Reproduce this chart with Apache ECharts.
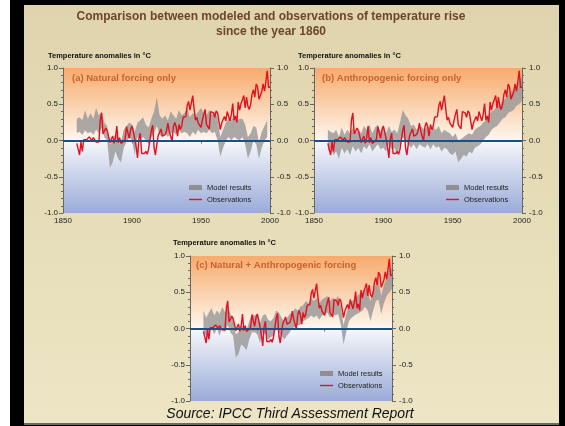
<!DOCTYPE html>
<html><head><meta charset="utf-8">
<script src="https://cdn.jsdelivr.net/npm/echarts@6/dist/echarts.min.js"></script>
<style>html,body{margin:0;padding:0;background:#fff;}#c{width:565px;height:426px;}</style>
</head><body><div id="c"></div>
<script>
// ---- data ----
const OBS_START = 1860;
const observations = [
 -0.04,-0.12,-0.20,-0.02,-0.15,0.01,0.03,0.01,0.03,0.05,
 0.04,0.00,0.04,0.02,-0.02,-0.04,-0.02,0.28,0.38,0.09,
 0.10,0.17,0.14,0.06,-0.03,0.02,0.06,-0.04,0.04,0.20,
 -0.03,0.04,-0.04,-0.05,-0.01,0.02,0.19,0.21,0.03,0.15,
 0.20,0.12,0.02,-0.08,-0.24,0.02,0.10,-0.18,-0.19,-0.18,
 -0.15,-0.19,-0.12,-0.10,0.14,0.21,-0.10,-0.20,-0.05,0.07,
 0.08,0.16,0.06,0.08,0.08,0.13,0.24,0.13,0.15,-0.01,
 0.19,0.25,0.19,0.06,0.22,0.15,0.20,0.32,0.34,0.33,
 0.48,0.54,0.42,0.44,0.62,0.44,0.28,0.32,0.24,0.24,
 0.18,0.28,0.36,0.43,0.22,0.21,0.16,0.40,0.41,0.38,
 0.32,0.41,0.38,0.40,0.15,0.24,0.29,0.33,0.27,0.40,
 0.38,0.27,0.36,0.51,0.28,0.34,0.25,0.53,0.42,0.51,
 0.56,0.62,0.45,0.60,0.47,0.43,0.50,0.64,0.70,0.60,
 0.78,0.74,0.57,0.58,0.67,0.78,0.68,0.81,0.96,0.73,
 0.74
];
const BAND_START = 1860, BAND_STEP = 2;
// (a) natural forcing: model range low / high, every 2 years from 1860
const naturalLow = [0.10,0.12,0.08,0.14,0.10,0.12,0.08,0.15,0.10,0.18,0.05,0.00,-0.38,-0.30,-0.15,-0.25,-0.30,-0.10,-0.02,0.05,
 0.00,-0.20,0.05,0.02,0.05,0.00,-0.05,0.05,0.10,0.20,0.08,0.05,0.10,0.05,0.10,0.12,0.08,0.15,0.10,0.12,
 0.10,0.05,0.12,0.08,0.15,0.10,0.12,0.10,0.15,0.10,0.12,0.00,-0.22,-0.10,0.00,0.05,0.00,0.05,0.02,0.00,
 0.05,-0.05,-0.25,-0.15,0.00,-0.05,-0.25,-0.10,0.00,0.05];
const naturalHigh = [0.30,0.32,0.28,0.42,0.30,0.38,0.30,0.45,0.35,0.40,0.25,0.20,-0.05,0.00,0.10,0.05,-0.02,0.15,0.20,0.25,
 0.22,0.12,0.25,0.28,0.32,0.22,0.18,0.30,0.40,0.60,0.35,0.30,0.35,0.28,0.40,0.35,0.30,0.42,0.35,0.38,
 0.45,0.32,0.38,0.35,0.40,0.45,0.38,0.35,0.42,0.35,0.40,0.30,0.05,0.15,0.25,0.30,0.28,0.35,0.28,0.30,
 0.30,0.22,0.05,0.10,0.20,0.18,-0.02,0.12,0.20,0.28];
// (b) anthropogenic forcing
const anthroLow = [-0.15,-0.10,-0.20,-0.15,-0.25,-0.10,-0.18,-0.12,-0.20,-0.08,-0.15,-0.10,-0.18,-0.08,-0.12,-0.05,-0.15,-0.10,-0.05,-0.12,
 -0.10,-0.15,-0.05,-0.12,-0.10,-0.20,-0.05,0.05,0.00,-0.05,-0.10,-0.05,-0.12,-0.05,-0.08,-0.10,-0.05,-0.12,-0.05,-0.10,
 -0.08,-0.15,-0.10,-0.12,-0.18,-0.20,-0.15,-0.30,-0.25,-0.20,-0.22,-0.15,-0.18,-0.10,-0.08,-0.05,0.00,0.05,0.08,0.15,
 0.18,0.20,0.25,0.30,0.32,0.38,0.40,0.42,0.48,0.50,0.55];
const anthroHigh = [0.15,0.12,0.10,0.15,0.05,0.18,0.08,0.15,0.10,0.18,0.12,0.15,0.10,0.20,0.15,0.22,0.10,0.18,0.22,0.12,
 0.18,0.10,0.20,0.12,0.15,0.10,0.25,0.42,0.35,0.30,0.20,0.22,0.15,0.20,0.18,0.15,0.22,0.12,0.18,0.15,
 0.20,0.10,0.15,0.12,0.10,0.05,0.10,0.00,0.02,0.05,0.08,0.10,0.08,0.15,0.18,0.20,0.25,0.28,0.35,0.40,
 0.42,0.48,0.50,0.55,0.58,0.62,0.68,0.70,0.75,0.82,0.88];
// (c) natural + anthropogenic forcing
const bothLow = [-0.05,-0.10,-0.05,0.00,-0.08,0.00,-0.10,0.02,-0.05,0.05,-0.05,-0.10,-0.40,-0.35,-0.22,-0.25,-0.30,-0.15,-0.05,-0.05,
 -0.08,-0.20,-0.05,-0.08,-0.15,-0.12,-0.10,0.00,-0.05,-0.10,-0.15,-0.10,-0.05,0.00,0.02,0.05,0.05,0.10,0.12,0.15,
 0.18,0.15,0.18,0.12,0.18,0.20,0.22,0.15,0.20,0.18,0.20,0.05,-0.22,-0.05,0.10,0.15,0.18,0.20,0.22,0.25,
 0.30,0.25,0.10,0.25,0.38,0.40,0.20,0.35,0.45,0.50,0.55];
const bothHigh = [0.25,0.15,0.22,0.28,0.18,0.25,0.20,0.30,0.22,0.32,0.20,0.15,-0.08,-0.05,0.05,0.02,-0.02,0.10,0.20,0.18,
 0.20,0.08,0.18,0.20,0.12,0.10,0.15,0.25,0.22,0.15,0.10,0.15,0.20,0.22,0.28,0.25,0.30,0.32,0.38,0.35,
 0.42,0.38,0.42,0.35,0.40,0.42,0.45,0.38,0.42,0.40,0.45,0.30,0.05,0.20,0.35,0.38,0.40,0.45,0.48,0.50,
 0.55,0.50,0.38,0.50,0.62,0.65,0.45,0.60,0.70,0.80,0.85];
const panelTitles = ['(a) Natural forcing only','(b) Anthropogenic forcing only','(c) Natural + Anthropogenic forcing'];
const xTicks = {min:1850, max:2000, interval:50};
const yTicks = {min:-1, max:1, interval:0.5};
const legendNames = ['Model results','Observations'];

// ---- chart ----
const FONT = '"Liberation Sans", Arial, sans-serif';
const chart = echarts.init(document.getElementById('c'), null, {renderer:'canvas'});
const bandSets = [[naturalLow,naturalHigh],[anthroLow,anthroHigh],[bothLow,bothHigh]];
const grids = [
  {left:63, top:68, width:207, height:145},
  {left:314, top:68, width:208, height:145},
  {left:190, top:256, width:202, height:145}
];
const BAND_COLOR = '#999999', OBS_COLOR = '#e3101e';
const plotBg = new echarts.graphic.LinearGradient(0,0,0,1,[
  {offset:0,color:'#f8aa6c'},{offset:0.47,color:'#fdf2e6'},{offset:0.5,color:'#fbf9f8'},
  {offset:0.55,color:'#eef0f8'},{offset:1,color:'#9aabd8'}]);
const axisTxt = {fontSize:8, color:'#222', fontFamily:FONT};
const option = {
  animation:false,
  backgroundColor:'transparent',
  grid: grids.map(g => Object.assign({show:true, borderWidth:0, backgroundColor:plotBg}, g)),
  xAxis: grids.map((g,i) => ({
    type:'value', gridIndex:i, min:xTicks.min, max:xTicks.max, interval:xTicks.interval,
    axisLine:{show:true, lineStyle:{color:'#666', width:1}},
    axisTick:{show:true, length:3, lineStyle:{color:'#666'}},
    axisLabel:Object.assign({show:i<2, margin:4, formatter:v=>String(v)}, axisTxt),
    splitLine:{show:false}
  })),
  yAxis: [],
  series: [],
  legend: [],
  graphic: []
};
grids.forEach((g,i) => {
  ['left','right'].forEach(pos => {
    option.yAxis.push({
      type:'value', gridIndex:i, position:pos, min:yTicks.min, max:yTicks.max, interval:yTicks.interval,
      axisLine:{show:true, onZero:false, lineStyle:{color:'#666', width:1}},
      axisTick:{show:true, length:4, lineStyle:{color:'#666'}},
      minorTick:{show:true, splitNumber:5, length:2, lineStyle:{color:'#666'}},
      axisLabel:Object.assign({margin:pos==='left'?5:7, formatter:v=>v.toFixed(1)}, axisTxt),
      splitLine:{show:false}
    });
  });
  const [lo, hi] = bandSets[i];
  const yIdx = i*2;
  const bandData = lo.map((v,k)=>[BAND_START+k*BAND_STEP, v, hi[k]]);
  option.series.push({
    type:'custom', name:'Model results', coordinateSystem:'cartesian2d', xAxisIndex:i, yAxisIndex:yIdx,
    data: bandData, encode:{x:0, y:[1,2]}, itemStyle:{color:BAND_COLOR}, silent:true, z:2,
    renderItem:(params, api) => {
      if (params.dataIndex !== 0) return null;
      const top = bandData.map(d => api.coord([d[0], d[2]]));
      const bot = bandData.map(d => api.coord([d[0], d[1]])).reverse();
      return {type:'polygon', shape:{points: top.concat(bot)}, style:{fill:BAND_COLOR, opacity:0.82, stroke:null}};
    }
  });
  option.series.push({
    type:'line', name:'Observations', xAxisIndex:i, yAxisIndex:yIdx, z:3,
    data: observations.map((v,k)=>[OBS_START+k, v]), symbol:'none',
    itemStyle:{color:OBS_COLOR}, lineStyle:{color:OBS_COLOR, width:1.4},
    markLine:{silent:true, symbol:['none','none'], label:{show:false},
      lineStyle:{color:'#1b4f8c', width:2, type:'solid'}, data:[{yAxis:0}]}
  });
  const lg = [{left:189, top:183},{left:446, top:183},{left:320, top:369}][i];
  option.legend.push({
    orient:'vertical', left:lg.left, top:lg.top, itemWidth:13, itemHeight:5, itemGap:3, padding:0,
    selectedMode:false,
    textStyle:{fontSize:7.5, color:'#222', fontFamily:FONT, lineHeight:9},
    data:[{name:legendNames[0], icon:'rect', itemStyle:{color:'#8f8f8f'}},
          {name:legendNames[1], icon:'path://M0,0H13V1.4H0Z', itemStyle:{color:OBS_COLOR}}]
  });
});
option.graphic.push(
  {type:'rect', silent:true, z:-10, shape:{x:10,y:0,width:555,height:426}, style:{fill:'#000'}},
  {type:'rect', silent:true, z:-9, shape:{x:24,y:5,width:535,height:419},
    style:{fill:new echarts.graphic.LinearGradient(0,0,0,1,[{offset:0,color:'#dfd4ad'},{offset:1,color:'#ede5c4'}])}},
  {type:'rect', silent:true, z:-8, shape:{x:24,y:423,width:535,height:2}, style:{fill:'#6e6a58'}},
  {type:'text', x:271, y:9, style:{text:'Comparison between modeled and observations of temperature rise\nsince the year 1860',
    textAlign:'center', textVerticalAlign:'top', font:'bold 12px '+FONT, lineHeight:15, fill:'#6b4726'}},
  {type:'text', x:290, y:414, style:{text:'Source: IPCC Third Assessment Report', textAlign:'center', textVerticalAlign:'middle',
    font:'italic 14px '+FONT, fill:'#111'}}
);
const capPos = [[48,56],[298,56],[173,243]];
const ttlPos = [[72,78],[322,78],[196,265]];
capPos.forEach((p,i)=>{
  option.graphic.push({type:'text', x:p[0], y:p[1], z:100, style:{text:'Temperature anomalies in °C', textVerticalAlign:'middle',
    font:'bold 7.5px '+FONT, fill:'#111'}});
  option.graphic.push({type:'text', x:ttlPos[i][0], y:ttlPos[i][1], z:100, style:{text:panelTitles[i], textVerticalAlign:'middle',
    font:'bold 9.5px '+FONT, fill:'#c9612b'}});
});
chart.setOption(option);
</script></body></html>
